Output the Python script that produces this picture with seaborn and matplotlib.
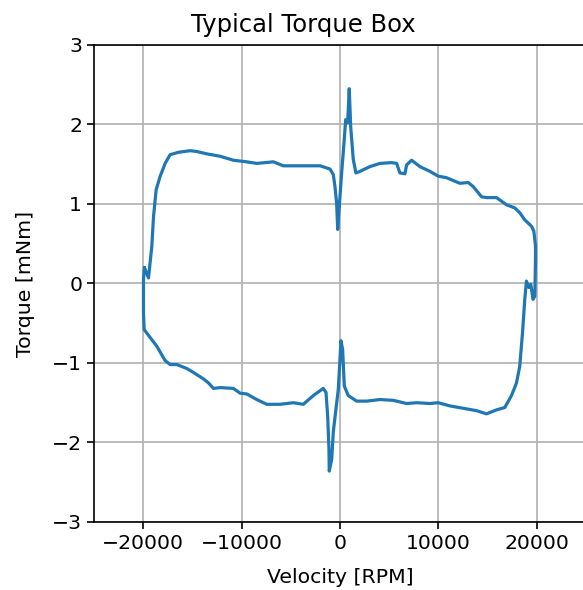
import numpy as np
import pandas as pd
import matplotlib.pyplot as plt
import seaborn as sns

# one torque/velocity loop (RPM, mNm)
velocity_rpm = [
    -19870, -19970, -19970, -19900, -19290, -18610, -17770, -17260, -16580, -15560,
    -14890, -13880, -13370, -12860, -12180, -10830, -10150, -9470, -8460, -7440,
    -6090, -4740, -3730, -2710, -1700, -1420, -1250, -1120, -1090, -840,
    -680, -410, -170, 0, 100, 270, 440, 840, 1700, 2710,
    4060, 5410, 6770, 7790, 9140, 9980, 11170, 12520, 13880, 14890,
    15910, 16750, 17430, 17940, 18270, 18550, 18780, 18950, 19190, 19390,
    19620, 19800, 19870, 19870, 19700, 19460, 18780, 18270, 17770, 16920,
    15910, 14890, 14390, 13530, 13030, 12180, 10830, 9980, 9140, 8120,
    7280, 6770, 6600, 6090, 5760, 5250, 4060, 3050, 2030, 1620,
    1350, 1090, 940, 780, 580, 410, 170, -70, -230, -340,
    -510, -680, -1020, -2030, -4060, -5760, -6770, -8460, -9470, -10830,
    -12180, -13530, -14550, -15230, -16420, -17260, -17770, -18270, -18680, -18950,
    -19120, -19460, -19870,
]
torque_mnm = [
    0.20, 0.05, -0.37, -0.58, -0.68, -0.79, -0.97, -1.02, -1.02, -1.07,
    -1.12, -1.20, -1.25, -1.32, -1.31, -1.32, -1.38, -1.39, -1.46, -1.52,
    -1.52, -1.50, -1.52, -1.41, -1.32, -1.37, -1.67, -2.08, -2.36, -2.21,
    -1.87, -1.58, -1.33, -0.95, -0.72, -0.83, -1.29, -1.41, -1.48, -1.48,
    -1.46, -1.47, -1.51, -1.50, -1.51, -1.50, -1.54, -1.57, -1.60, -1.64,
    -1.59, -1.56, -1.41, -1.25, -1.04, -0.62, -0.20, 0.03, -0.05, -0.01,
    -0.20, -0.16, 0.30, 0.47, 0.66, 0.72, 0.80, 0.89, 0.95, 0.99,
    1.08, 1.08, 1.09, 1.22, 1.27, 1.26, 1.33, 1.35, 1.41, 1.47,
    1.55, 1.49, 1.38, 1.39, 1.51, 1.52, 1.51, 1.47, 1.41, 1.39,
    1.56, 1.97, 2.45, 2.02, 2.06, 1.77, 1.39, 0.97, 0.68, 1.01,
    1.22, 1.37, 1.44, 1.48, 1.48, 1.48, 1.53, 1.51, 1.53, 1.55,
    1.60, 1.63, 1.66, 1.67, 1.65, 1.62, 1.51, 1.35, 1.18, 0.84,
    0.47, 0.07, 0.20,
]
x_ticks = [-20000, -10000, 0, 10000, 20000]
y_ticks = [-3, -2, -1, 0, 1, 2, 3]

df = pd.DataFrame({'vel': velocity_rpm, 'torque': torque_mnm})

sns.set_style('ticks')
plt.rcParams['font.family'] = ['DejaVu Sans']
plt.rcParams.update({'text.color': 'black', 'axes.labelcolor': 'black',
                     'xtick.color': 'black', 'ytick.color': 'black'})

fig = plt.figure(figsize=(5.83, 5.90), dpi=100)
ax = fig.add_axes([0.1612, 0.1153, 0.8439, 0.8085])

sns.lineplot(data=df, x='vel', y='torque', sort=False, estimator=None,
             color='#1f77b4', linewidth=2.3, ax=ax)

ax.set_xlim(-25000, 25000)
ax.set_ylim(-3, 3)
ax.set_xticks(x_ticks)
ax.set_yticks(y_ticks)
ax.grid(True, color='#b0b0b0', linewidth=1.2)
ax.set_axisbelow(True)
for s in ax.spines.values():
    s.set_linewidth(1.2)
    s.set_color('black')
ax.tick_params(labelsize=14.7, length=5, width=1.2, color='black',
               labelcolor='black', direction='out')
ax.set_xlabel('Velocity [RPM]', fontsize=14.7, color='black')
ax.set_ylabel('Torque [mNm]', fontsize=14.7, color='black')
ax.xaxis.set_label_coords(0.5, -0.096)
ax.yaxis.set_label_coords(-0.12, 0.5)
fig.suptitle('Typical Torque Box', x=0.521, y=0.958, va='center',
             fontsize=17.5, color='black')

fig.savefig('out.png', dpi=100)
